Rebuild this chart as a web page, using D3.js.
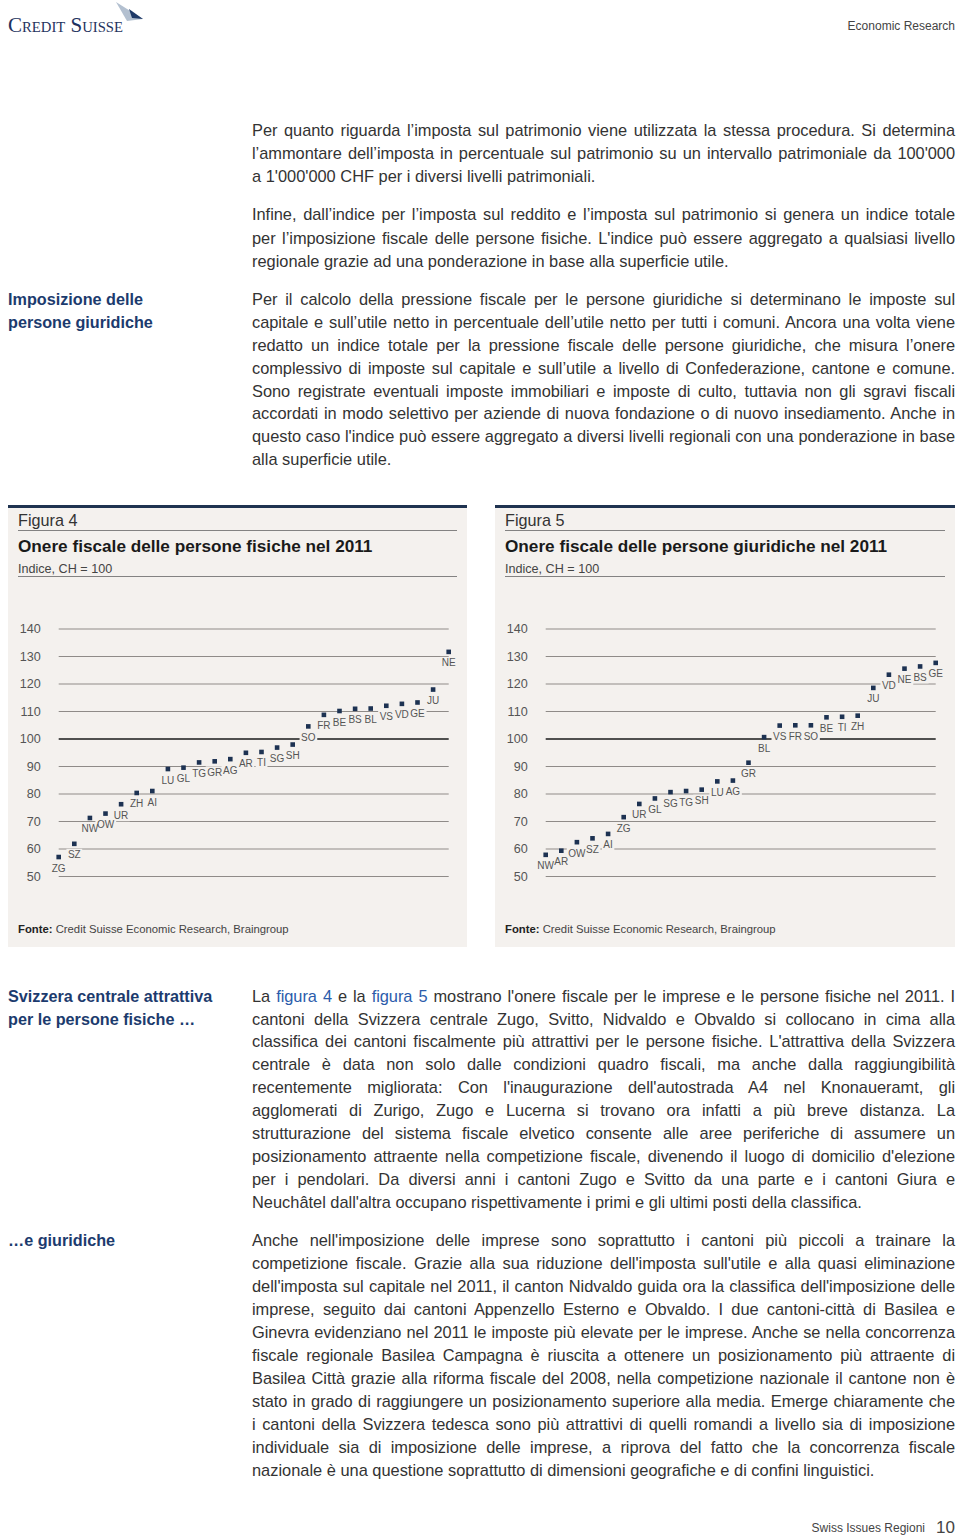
<!DOCTYPE html>
<html><head><meta charset="utf-8">
<script src="https://cdn.jsdelivr.net/npm/d3@7"></script>
<style>
html,body{margin:0;padding:0;background:#fff;}
body{width:960px;height:1537px;position:relative;overflow:hidden;font-family:"Liberation Sans",Arial,sans-serif;}
#svg{position:absolute;left:0;top:0;}
.ln{position:absolute;left:252px;width:703px;height:20px;line-height:20px;font-size:16.4px;color:#333;white-space:nowrap;text-align:justify;text-align-last:justify;}
.ln.last{text-align-last:left;}
.side{position:absolute;left:8px;height:20px;line-height:20px;font-size:16.2px;font-weight:bold;color:#1c3b6e;white-space:nowrap;}
.lk{color:#2b5cab;}
</style></head>
<body>
<svg id="svg" width="960" height="1537"></svg>
<script>
// ---- data ----
const cantonsFig4 = ["ZG","SZ","NW","OW","UR","ZH","AI","LU","GL","TG","GR","AG","AR","TI","SG","SH","SO","FR","BE","BS","BL","VS","VD","GE","JU","NE"];
const valuesFig4  = [56.9,61.7,71.1,72.7,76.1,80.2,80.9,88.9,89.4,91.3,91.7,92.5,94.8,95.1,96.7,97.8,104.4,108.6,110.0,110.8,110.9,111.9,112.6,113.1,117.8,131.5];
const cantonsFig5 = ["NW","AR","OW","SZ","AI","ZG","UR","GL","SG","TG","SH","LU","AG","GR","BL","VS","FR","SO","BE","TI","ZH","JU","VD","NE","BS","GE"];
const valuesFig5  = [57.7,59.2,62.3,63.7,65.3,71.4,76.2,78.2,80.5,80.9,81.4,84.4,84.7,91.2,100.5,104.7,104.8,104.8,107.7,107.9,108.3,118.4,123.2,125.4,126.2,127.5];
const yTicks = [50,60,70,80,90,100,110,120,130,140];
const figNumbers = ["Figura 4","Figura 5"];
const figTitles = ["Onere fiscale delle persone fisiche nel 2011","Onere fiscale delle persone giuridiche nel 2011"];
const figSubtitle = "Indice, CH = 100";
const sourceText = "Credit Suisse Economic Research, Braingroup";

// ---- body text ----
const paras = [
 {y:[130,153,176], lines:[
 "Per quanto riguarda l’imposta sul patrimonio viene utilizzata la stessa procedura. Si determina",
 "l’ammontare dell’imposta in percentuale sul patrimonio su un intervallo patrimoniale da 100'000",
 "a 1'000'000 CHF per i diversi livelli patrimoniali."]},
 {y:[214,238,261], lines:[
 "Infine, dall’indice per l’imposta sul reddito e l’imposta sul patrimonio si genera un indice totale",
 "per l’imposizione fiscale delle persone fisiche. L'indice può essere aggregato a qualsiasi livello",
 "regionale grazie ad una ponderazione in base alla superficie utile."]},
 {y:[299,322,345,368,391,413,436,459], lines:[
 "Per il calcolo della pressione fiscale per le persone giuridiche si determinano le imposte sul",
 "capitale e sull’utile netto in percentuale dell’utile netto per tutti i comuni. Ancora una volta viene",
 "redatto un indice totale per la pressione fiscale delle persone giuridiche, che misura l’onere",
 "complessivo di imposte sul capitale e sull’utile a livello di Confederazione, cantone e comune.",
 "Sono registrate eventuali imposte immobiliari e imposte di culto, tuttavia non gli sgravi fiscali",
 "accordati in modo selettivo per aziende di nuova fondazione o di nuovo insediamento. Anche in",
 "questo caso l'indice può essere aggregato a diversi livelli regionali con una ponderazione in base",
 "alla superficie utile."]},
 {y:[996,1019,1041,1064,1087,1110,1133,1156,1179,1202], lines:[
 "La <span class='lk'>figura 4</span> e la <span class='lk'>figura 5</span> mostrano l'onere fiscale per le imprese e le persone fisiche nel 2011. I",
 "cantoni della Svizzera centrale Zugo, Svitto, Nidvaldo e Obvaldo si collocano in cima alla",
 "classifica dei cantoni fiscalmente più attrattivi per le persone fisiche. L'attrattiva della Svizzera",
 "centrale è data non solo dalle condizioni quadro fiscali, ma anche dalla raggiungibilità",
 "recentemente migliorata: Con l'inaugurazione dell'autostrada A4 nel Knonaueramt, gli",
 "agglomerati di Zurigo, Zugo e Lucerna si trovano ora infatti a più breve distanza. La",
 "strutturazione del sistema fiscale elvetico consente alle aree periferiche di assumere un",
 "posizionamento attraente nella competizione fiscale, divenendo il luogo di domicilio d'elezione",
 "per i pendolari. Da diversi anni i cantoni Zugo e Svitto da una parte e i cantoni Giura e",
 "Neuchâtel dall'altra occupano rispettivamente i primi e gli ultimi posti della classifica."]},
 {y:[1240,1263,1286,1309,1332,1355,1378,1401,1424,1447,1470], lines:[
 "Anche nell'imposizione delle imprese sono soprattutto i cantoni più piccoli a trainare la",
 "competizione fiscale. Grazie alla sua riduzione dell'imposta sull'utile e alla quasi eliminazione",
 "dell'imposta sul capitale nel 2011, il canton Nidvaldo guida ora la classifica dell'imposizione delle",
 "imprese, seguito dai cantoni Appenzello Esterno e Obvaldo. I due cantoni-città di Basilea e",
 "Ginevra evidenziano nel 2011 le imposte più elevate per le imprese. Anche se nella concorrenza",
 "fiscale regionale Basilea Campagna è riuscita a ottenere un posizionamento più attraente di",
 "Basilea Città grazie alla riforma fiscale del 2008, nella competizione nazionale il cantone non è",
 "stato in grado di raggiungere un posizionamento superiore alla media. Emerge chiaramente che",
 "i cantoni della Svizzera tedesca sono più attrattivi di quelli romandi a livello sia di imposizione",
 "individuale sia di imposizione delle imprese, a riprova del fatto che la concorrenza fiscale",
 "nazionale è una questione soprattutto di dimensioni geografiche e di confini linguistici."]}
];
const sides = [
 {y:299,t:"Imposizione delle"},{y:322,t:"persone giuridiche"},
 {y:996,t:"Svizzera centrale attrattiva"},{y:1019,t:"per le persone fisiche …"},
 {y:1240,t:"…e giuridiche"}
];
const body = d3.select("body");
paras.forEach(p=>{
  p.lines.forEach((l,i)=>{
    const div = body.append("div").attr("class","ln"+(i===p.lines.length-1?" last":""))
      .style("top",(p.y[i]-10)+"px");
    div.append("span").html(l);
    const sp = div.select("span").node();
    const w = sp.getBoundingClientRect().width;
    if (w > 700) {
      const chars = sp.textContent.length;
      div.style("letter-spacing", ((700 - w) / chars).toFixed(3) + "px");
    }
  });
});
sides.forEach(s=>body.append("div").attr("class","side").style("top",(s.y-10)+"px").text(s.t));

const svg = d3.select("#svg");

// ---- header ----
svg.append("polygon").attr("points","116,2 143,19 127,21").attr("fill","#b3c0d0");
svg.append("polygon").attr("points","129,9 143,19 132,18").attr("fill","#1f3a68");
svg.append("text").attr("x",8).attr("y",31.5).attr("font-family","Liberation Serif, serif")
  .attr("font-size",21.5).attr("fill","#1f3360").style("font-variant","small-caps")
  .attr("textLength",115).attr("lengthAdjust","spacingAndGlyphs").text("Credit Suisse");
svg.append("text").attr("x",955).attr("y",30).attr("text-anchor","end")
  .attr("font-size",12).attr("fill","#444").attr("font-family","Liberation Sans, Arial").text("Economic Research");
svg.append("text").attr("x",925).attr("y",1532).attr("text-anchor","end")
  .attr("font-size",12).attr("fill","#444").attr("font-family","Liberation Sans, Arial").text("Swiss Issues Regioni");
svg.append("text").attr("x",955).attr("y",1533).attr("text-anchor","end")
  .attr("font-size",17).attr("fill","#444").attr("font-family","Liberation Sans, Arial").text("10");

// ---- charts ----
function drawChart(px, pw, idx, cantons, values){
  const top = 506, bottom = 947;
  const g = svg.append("g").attr("font-family","Liberation Sans, Arial, sans-serif");
  g.append("rect").attr("x",px).attr("y",top).attr("width",pw).attr("height",bottom-top).attr("fill","#f4f1ee");
  g.append("line").attr("x1",px).attr("x2",px+pw).attr("y1",top+0.5).attr("y2",top+0.5).attr("stroke","#1f3350").attr("stroke-width",3);
  g.append("text").attr("x",px+10).attr("y",526).attr("font-size",16.2).attr("fill","#333").text(figNumbers[idx]);
  g.append("line").attr("x1",px+10).attr("x2",px+pw-10).attr("y1",530.5).attr("y2",530.5).attr("stroke","#666").attr("stroke-width",0.8);
  g.append("text").attr("x",px+10).attr("y",552).attr("font-size",17.2).attr("font-weight","bold").attr("fill","#1a1a1a").text(figTitles[idx]);
  g.append("text").attr("x",px+10).attr("y",573).attr("font-size",12.6).attr("fill","#444").text(figSubtitle);
  g.append("line").attr("x1",px+10).attr("x2",px+pw-10).attr("y1",576.5).attr("y2",576.5).attr("stroke","#666").attr("stroke-width",0.8);
  const src = g.append("text").attr("x",px+10).attr("y",933).attr("font-size",11.3).attr("fill","#444");
  src.append("tspan").attr("font-weight","bold").attr("fill","#222").text("Fonte: ");
  src.append("tspan").text(sourceText);

  const y = d3.scaleLinear().domain([50,140]).range([top+370,top+122.5]);
  const x = d3.scalePoint().domain(cantons).range([px+50.7, px+440.7]);

  const axis = d3.axisLeft(y).tickValues(yTicks).tickSize(-(440.7-50.7)).tickPadding(18).tickFormat(d3.format("d"));
  const ag = g.append("g").attr("transform",`translate(${px+50.7},0)`).call(axis);
  ag.select(".domain").remove();
  ag.selectAll(".tick line").attr("stroke",d=>d===100?"#1a1a1a":"#8f8b88").attr("stroke-width",d=>d===100?1.6:1.2);
  ag.selectAll(".tick text").attr("font-size",12.6).attr("fill","#555").attr("font-family","Liberation Sans, Arial");

  const lab = g.append("g").attr("font-size",10).attr("font-family","Liberation Sans, Arial");
  const items = cantons.map((c,i)=>({c, v:values[i]}));
  const texts = lab.selectAll("text").data(items).join("text")
    .attr("x",d=>x(d.c)).attr("y",d=>y(d.v)+11).attr("text-anchor","middle")
    .attr("dominant-baseline","central").attr("fill","#555").text(d=>d.c);
  texts.each(function(){
    const b = this.getBBox();
    lab.insert("rect","text").attr("x",b.x-1.5).attr("y",b.y-0.5).attr("width",b.width+3).attr("height",b.height+1).attr("fill","#f4f1ee");
  });
  g.append("g").selectAll("rect").data(items).join("rect")
    .attr("x",d=>x(d.c)-2.3).attr("y",d=>y(d.v)-2.3).attr("width",4.6).attr("height",4.6).attr("fill","#1d3252");
}
drawChart(8, 459, 0, cantonsFig4, valuesFig4);
drawChart(495, 460, 1, cantonsFig5, valuesFig5);
</script>
</body></html>
